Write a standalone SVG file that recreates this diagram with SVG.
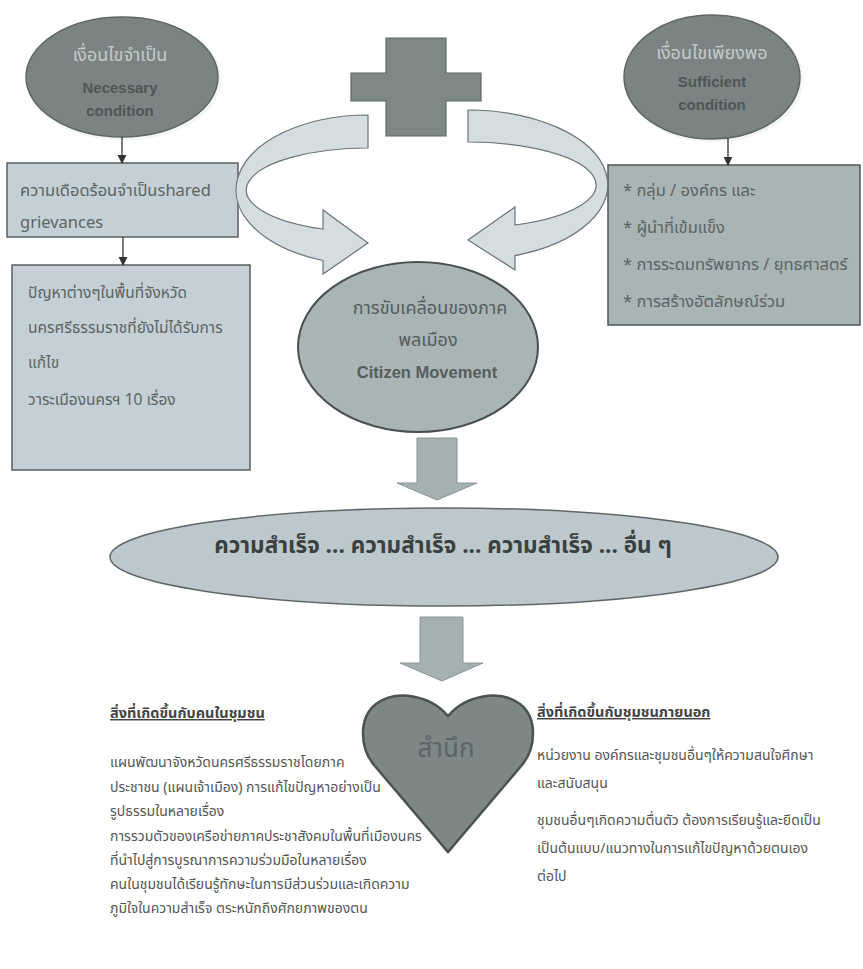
<svg xmlns="http://www.w3.org/2000/svg" width="863" height="969" viewBox="0 0 863 969">
<defs>
<marker id="ah" viewBox="0 0 10 10" refX="9" refY="5" markerWidth="7" markerHeight="7" orient="auto">
<path d="M0,0 L10,5 L0,10 Z" fill="#333"/>
</marker>
<style>
.th{font-family:"Noto Sans Thai","Noto Sans","DejaVu Sans","Liberation Sans",sans-serif;}
.en{font-family:"Liberation Sans","Open Sans",sans-serif;font-weight:bold;}
.oval{fill:#7b8483;stroke:#5e6665;stroke-width:1.5;}
.rim{fill:none;stroke:#f4f6f6;stroke-width:3;}
.box1{fill:#c4d0d5;stroke:#5a5f60;stroke-width:1.5;}
.box2{fill:#a9b4b5;stroke:#4f5555;stroke-width:1.5;}
.curve{fill:#d4dee1;stroke:#6d7475;stroke-width:1.2;}
.down{fill:#a5b0b1;stroke:#8b9495;stroke-width:1;}
.conn{stroke:#333;stroke-width:1.3;fill:none;marker-end:url(#ah);}
.ot{fill:#c6cbca;font-size:18px;}
.oe{fill:#4e5654;font-size:15px;}
.bt{fill:#5c6463;font-size:15.5px;}
.bb{fill:#5c6463;font-size:16.5px;}
.lt{fill:#555;font-size:14px;}
.hd{fill:#444;font-size:14.5px;font-weight:bold;text-decoration:underline;}
</style>
</defs>
<rect width="863" height="969" fill="#ffffff"/>

<g id="necessary">
<ellipse class="rim" cx="124" cy="79" rx="96" ry="60"/>
<ellipse class="oval" cx="122" cy="77" rx="96" ry="60"/>
<text class="th ot" x="120" y="61" text-anchor="middle">เงื่อนไขจำเป็น</text>
<text class="en oe" x="120" y="93" text-anchor="middle">Necessary</text>
<text class="en oe" x="120" y="116" text-anchor="middle">condition</text>
</g>

<g id="sufficient">
<ellipse class="rim" cx="714" cy="79" rx="88" ry="62"/>
<ellipse class="oval" cx="712" cy="77" rx="88" ry="62"/>
<text class="th ot" x="712" y="59" text-anchor="middle">เงื่อนไขเพียงพอ</text>
<text class="en oe" x="712" y="87" text-anchor="middle">Sufficient</text>
<text class="en oe" x="712" y="110" text-anchor="middle">condition</text>
</g>

<g id="plus">
<path d="M386,38 H446 V73 H481 V101 H446 V136 H386 V101 H351 V73 H386 Z" fill="#7d8887" stroke="#5f6867" stroke-width="1.2"/>
</g>

<g id="grievances">
<rect class="box1" x="7" y="163" width="231" height="74"/>
<text class="th bb" x="20" y="196">ความเดือดร้อนจำเป็นshared</text>
<text class="th bb" x="20" y="228">grievances</text>
</g>

<g id="problems">
<rect class="box1" x="12" y="265" width="238" height="205"/>
<text class="th bt" x="28" y="298">ปัญหาต่างๆในพื้นที่จังหวัด</text>
<text class="th bt" x="28" y="333">นครศรีธรรมราชที่ยังไม่ได้รับการ</text>
<text class="th bt" x="28" y="368">แก้ไข</text>
<text class="th bt" x="28" y="405">วาระเมืองนครฯ 10 เรื่อง</text>
</g>

<g id="factors">
<rect class="box2" x="608" y="165" width="252" height="160"/>
<text class="th bb" x="623" y="196">* กลุ่ม / องค์กร และ</text>
<text class="th bb" x="623" y="233">* ผู้นำที่เข้มแข็ง</text>
<text class="th bb" x="623" y="270">* การระดมทรัพยากร / ยุทธศาสตร์</text>
<text class="th bb" x="623" y="307">* การสร้างอัตลักษณ์ร่วม</text>
</g>

<g id="citizen">
<ellipse cx="418" cy="347" rx="120" ry="85" fill="#a9b4b5" stroke="#4a4f4f" stroke-width="2"/>
<text class="th" x="430" y="314" text-anchor="middle" fill="#555d5c" font-size="18">การขับเคลื่อนของภาค</text>
<text class="th" x="428" y="346" text-anchor="middle" fill="#555d5c" font-size="18">พลเมือง</text>
<text class="en" x="427" y="378" text-anchor="middle" fill="#555d5c" font-size="16.5">Citizen Movement</text>
</g>

<g id="success">
<ellipse cx="444" cy="557" rx="334" ry="49" fill="#bcc8cc" stroke="#5f6667" stroke-width="1.5"/>
<text class="th" x="443" y="553" text-anchor="middle" fill="#3a4040" font-size="22.5" font-weight="bold">ความสำเร็จ ... ความสำเร็จ ... ความสำเร็จ ... อื่น ๆ</text>
</g>

<g id="awareness">
<path d="M448,716 C430,695 396,689 376,704 C358,718 360,748 374,765 L448,852 L522,765 C536,748 538,718 520,704 C500,689 466,695 448,716 Z" fill="#7c8786" stroke="#4b5252" stroke-width="2.5"/>
<text class="th" x="446" y="757" text-anchor="middle" fill="#5d6664" font-size="26">สำนึก</text>
</g>

<g id="inside">
<text class="th hd" x="110" y="718">สิ่งที่เกิดขึ้นกับคนในชุมชน</text>
<text class="th lt" x="110" y="767">แผนพัฒนาจังหวัดนครศรีธรรมราชโดยภาค</text>
<text class="th lt" x="110" y="792">ประชาชน (แผนเจ้าเมือง) การแก้ไขปัญหาอย่างเป็น</text>
<text class="th lt" x="110" y="816">รูปธรรมในหลายเรื่อง</text>
<text class="th lt" x="110" y="841">การรวมตัวของเครือข่ายภาคประชาสังคมในพื้นที่เมืองนคร</text>
<text class="th lt" x="110" y="865">ที่นำไปสู่การบูรณาการความร่วมมือในหลายเรื่อง</text>
<text class="th lt" x="110" y="889">คนในชุมชนได้เรียนรู้ทักษะในการมีส่วนร่วมและเกิดความ</text>
<text class="th lt" x="110" y="913">ภูมิใจในความสำเร็จ ตระหนักถึงศักยภาพของตน</text>
</g>

<g id="outside">
<text class="th hd" x="537" y="717">สิ่งที่เกิดขึ้นกับชุมชนภายนอก</text>
<text class="th lt" x="537" y="760">หน่วยงาน องค์กรและชุมชนอื่นๆให้ความสนใจศึกษา</text>
<text class="th lt" x="537" y="788">และสนับสนุน</text>
<text class="th lt" x="537" y="825">ชุมชนอื่นๆเกิดความตื่นตัว ต้องการเรียนรู้และยึดเป็น</text>
<text class="th lt" x="537" y="853">เป็นต้นแบบ/แนวทางในการแก้ไขปัญหาด้วยตนเอง</text>
<text class="th lt" x="537" y="881">ต่อไป</text>
</g>

<g id="connectors">
<line class="conn" x1="122" y1="137" x2="122" y2="163"/>
<line class="conn" x1="123" y1="237" x2="123" y2="265"/>
<line class="conn" x1="728" y1="138" x2="728" y2="165"/>
<path class="curve" d="M368,115 A132,75 0 0 0 323,260.5 L323,274 L368,243 L323,210 L323,229 A122,42 0 0 1 368,148 Z"/>
<path class="curve" d="M468,110 A140,75 0 0 1 515,255.6 L515,270 L468,240 L515,207 L515,225 A128,43 0 0 0 468,142 Z"/>
<polygon class="down" points="417,438 457,438 457,483 477,483 437,500 397,483 417,483"/>
<polygon class="down" points="420,617 463,617 463,663 483,663 442,681 400,663 420,663"/>
</g>
</svg>
